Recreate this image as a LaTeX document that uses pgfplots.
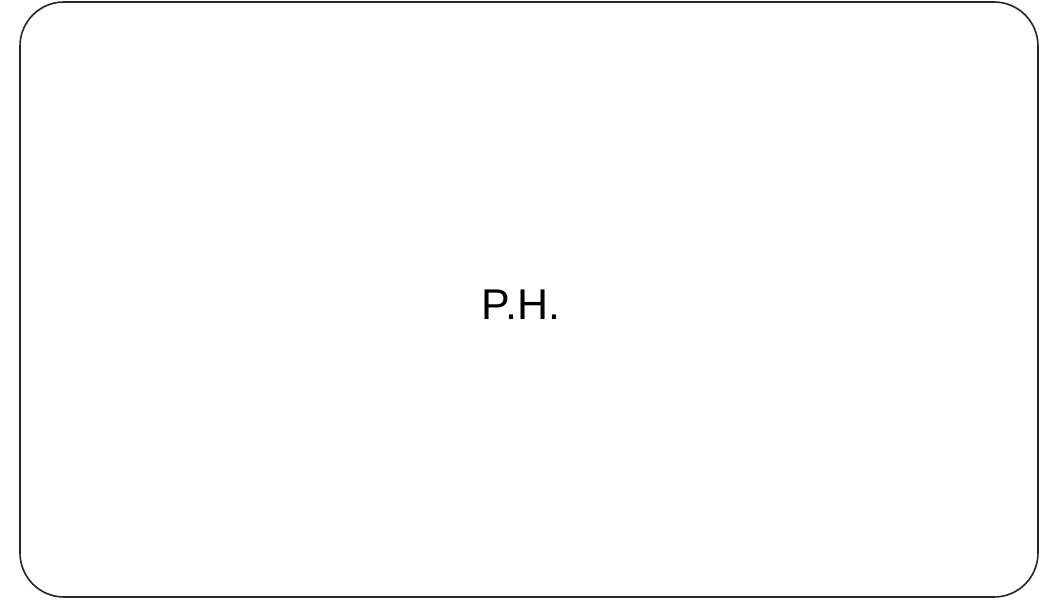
\documentclass[border=0pt]{standalone}
\usepackage{pgfplots}
\pgfplotsset{compat=1.18}
\usepackage{fontspec}
\setmainfont{Liberation Sans}
\begin{document}
\begin{tikzpicture}
\begin{axis}[
  width=520.5pt, height=301pt, scale only axis,
  xmin=0, xmax=1041, ymin=0, ymax=602,
  hide axis, clip=false,
]
\path[fill=white] (axis cs:0,0) rectangle (axis cs:1041,602);
\addplot[draw=black!85, line width=0.8pt, rounded corners=22pt, mark=none]
  coordinates {(20,300) (20,600) (1038,600) (1038,5) (20,5) (20,300)};
\node[font=\fontsize{21.5}{26}\selectfont, text=black] at (axis cs:521,297) {P.H.};
\end{axis}
\end{tikzpicture}
\end{document}
